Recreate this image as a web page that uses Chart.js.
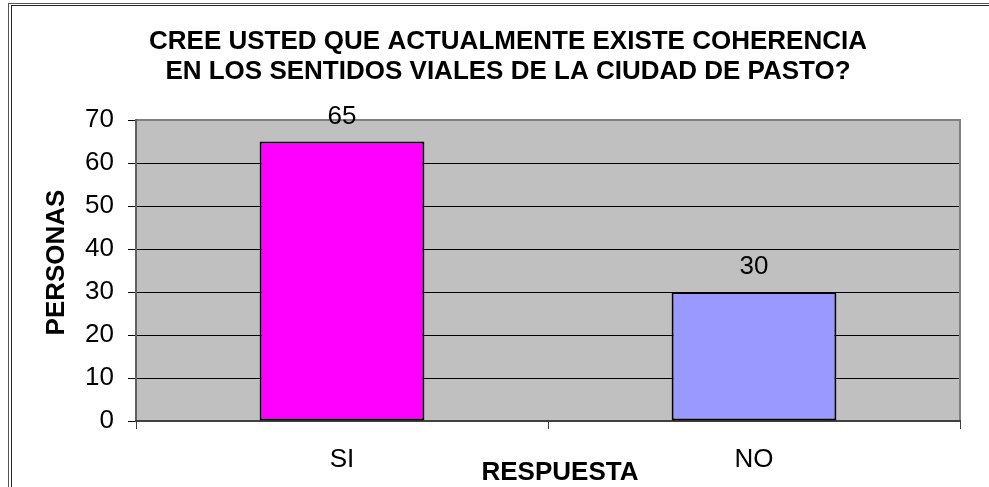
<!DOCTYPE html>
<html>
<head>
<meta charset="utf-8">
<script src="https://cdn.jsdelivr.net/npm/chart.js@4.4.1/dist/chart.umd.min.js"></script>
<style>
  html, body { margin: 0; padding: 0; background: #ffffff; width: 989px; height: 487px; overflow: hidden; }
  #frame1 { position: absolute; left: 8px; top: 3px; width: 1200px; height: 800px; border-left: 1px solid #555; border-top: 1px solid #555; }
  #frame2 { position: absolute; left: 11px; top: 5px; width: 1200px; height: 800px; border-left: 1px solid #222; border-top: 1px solid #222; }
  #c { position: absolute; left: 0; top: 0; }
</style>
</head>
<body>
<div id="frame1"></div>
<div id="frame2"></div>
<canvas id="c" width="989" height="487"></canvas>
<script>
// ---- data ----
const titleLines = [
  'CREE USTED QUE ACTUALMENTE EXISTE COHERENCIA',
  'EN LOS SENTIDOS VIALES DE LA CIUDAD DE PASTO?'
];
const categories = ['SI', 'NO'];
const personas = [65, 30];
const barColors = ['#FF00FF', '#9999FF'];
const yTicks = [0, 10, 20, 30, 40, 50, 60, 70];
const xAxisTitle = 'RESPUESTA';
const yAxisTitle = 'PERSONAS';

const FAMILY = '"Liberation Sans", Arial, Helvetica, sans-serif';

// ---- plugins ----
const plotBackground = {
  id: 'plotBackground',
  beforeDraw(chart) {
    const { ctx, chartArea: a } = chart;
    ctx.save();
    ctx.fillStyle = '#C0C0C0';
    ctx.fillRect(a.left, a.top, a.right - a.left, a.bottom - a.top);
    ctx.restore();
  }
};
// shift the axis-title anchor boxes slightly, as in the reference
const axisTitleShift = {
  id: 'axisTitleShift',
  afterLayout(chart) {
    chart.scales.y.top -= 16;
    chart.scales.x.left += 24;
  }
};
const plotFrame = {
  id: 'plotFrame',
  beforeDatasetsDraw(chart) {
    const { ctx, chartArea: a } = chart;
    ctx.save();
    // top + right edges (gray)
    ctx.strokeStyle = '#808080';
    ctx.lineWidth = 2;
    ctx.beginPath();
    ctx.moveTo(a.left, a.top);
    ctx.lineTo(a.right, a.top);
    ctx.lineTo(a.right, a.bottom);
    ctx.stroke();
    // left axis line
    ctx.strokeStyle = '#606060';
    ctx.beginPath();
    ctx.moveTo(a.left, a.top - 1);
    ctx.lineTo(a.left, a.bottom);
    ctx.stroke();
    // bottom axis line
    ctx.strokeStyle = '#404040';
    ctx.beginPath();
    ctx.moveTo(a.left - 1, a.bottom);
    ctx.lineTo(a.right + 1, a.bottom);
    ctx.stroke();
    ctx.restore();
  }
};
const valueLabels = {
  id: 'valueLabels',
  afterDatasetsDraw(chart) {
    const { ctx } = chart;
    const meta = chart.getDatasetMeta(0);
    ctx.save();
    ctx.font = '26px ' + FAMILY;
    ctx.fillStyle = '#000';
    ctx.textAlign = 'center';
    ctx.textBaseline = 'middle';
    meta.data.forEach((bar, i) => {
      ctx.fillText(String(personas[i]), bar.x, bar.y - 25);
    });
    ctx.restore();
  }
};

new Chart(document.getElementById('c'), {
  type: 'bar',
  data: {
    labels: categories,
    datasets: [{
      data: personas,
      backgroundColor: barColors,
      borderColor: '#000000',
      borderWidth: 2,
      borderSkipped: false,
      barPercentage: 0.4,
      categoryPercentage: 1.0
    }]
  },
  options: {
    responsive: false,
    animation: false,
    devicePixelRatio: 1,
    layout: { padding: { left: 56, right: 29, top: 0, bottom: 0 } },
    plugins: {
      legend: { display: false },
      tooltip: { enabled: false },
      title: {
        display: true,
        text: titleLines,
        color: '#000',
        font: { family: FAMILY, size: 26, weight: 'bold', lineHeight: 30.5 / 26 },
        padding: { top: 26.25, bottom: 32.75 }
      }
    },
    scales: {
      x: {
        offset: true,
        grid: { display: true, drawOnChartArea: false, drawTicks: true, tickLength: 8, tickColor: '#404040', offset: true },
        border: { display: false },
        ticks: { color: '#000', font: { family: FAMILY, size: 26 }, padding: 15.4 },
        title: {
          display: true,
          text: xAxisTitle,
          color: '#000',
          font: { family: FAMILY, size: 26, weight: 'bold', lineHeight: 1.2 },
          padding: { top: 0, bottom: -1.6 }
        },
        afterFit(scale) { scale.height = 66; }
      },
      y: {
        min: yTicks[0],
        max: yTicks[yTicks.length - 1],
        ticks: { stepSize: yTicks[1] - yTicks[0], color: '#000', font: { family: FAMILY, size: 26 }, padding: 14 },
        grid: { color: '#000', lineWidth: 1, drawTicks: true, tickLength: 8, tickColor: '#000' },
        border: { display: false },
        title: {
          display: true,
          text: yAxisTitle,
          color: '#000',
          font: { family: FAMILY, size: 26, weight: 'bold', lineHeight: 1.2 },
          padding: { top: -14.6, bottom: 10 }
        },
        afterFit(scale) { scale.width = 80; }
      }
    }
  },
  plugins: [plotBackground, axisTitleShift, plotFrame, valueLabels]
});
</script>
</body>
</html>
